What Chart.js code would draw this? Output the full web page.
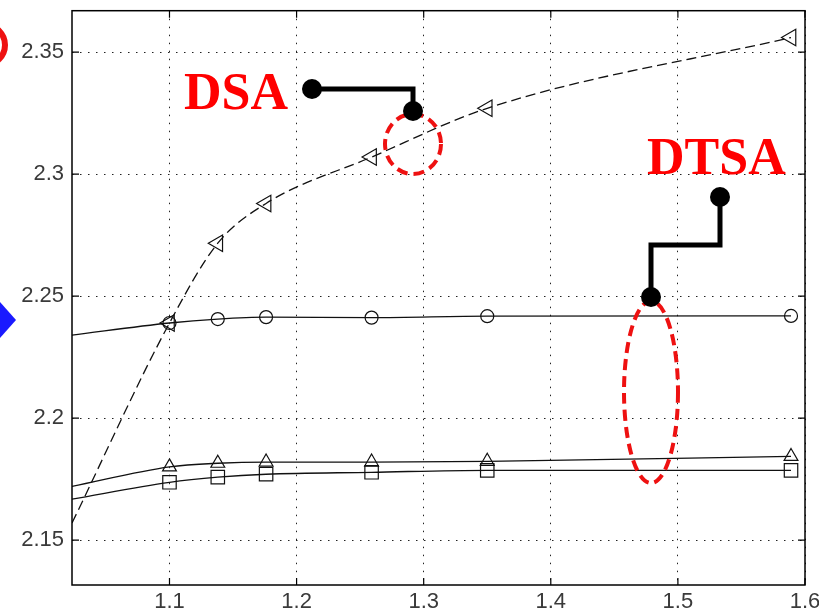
<!DOCTYPE html>
<html>
<head>
<meta charset="utf-8">
<script src="https://cdn.jsdelivr.net/npm/chart.js@4/dist/chart.umd.min.js"></script>
<style>
  html, body { margin: 0; padding: 0; background: #ffffff; }
  #wrap { width: 819px; height: 614px; position: relative; }
</style>
</head>
<body>
<div id="wrap"><canvas id="c" width="819" height="614"></canvas></div>
<script>
// ---- data ----
const xValues = [1.0233, 1.1, 1.138, 1.176, 1.259, 1.35, 1.589];
const seriesDashedTriLeft = [2.157, 2.239, 2.2717, 2.288, 2.307, 2.327, 2.356];
const seriesCircle = [2.234, 2.239, 2.2406, 2.2414, 2.2412, 2.2418, 2.2419];
const seriesTriUp = [2.172, 2.180, 2.1815, 2.182, 2.182, 2.1823, 2.1843];
const seriesSquare = [2.1668, 2.1737, 2.1758, 2.177, 2.1778, 2.1786, 2.1786];
const xTicks = [1.1, 1.2, 1.3, 1.4, 1.5, 1.6];
const yTicks = [2.15, 2.2, 2.25, 2.3, 2.35];
const xRange = [1.0233, 1.6];
const yRange = [2.1316, 2.367];
const annotationLabels = ["DSA", "DTSA"];

function pts(ys) { return xValues.map((x, i) => ({ x: x, y: ys[i] })); }
// first point is the curve's start at the axis edge: no marker
const markerRadius = (r) => xValues.map((_, i) => (i === 0 ? 0 : r));

const lineColor = '#111111';

const framePlugin = {
  id: 'frame',
  afterDraw(chart) {
    const ctx = chart.ctx;
    const a = chart.chartArea;
    const xs = chart.scales.x, ys = chart.scales.y;
    ctx.save();
    ctx.strokeStyle = '#000';
    ctx.lineWidth = 1.5;
    ctx.setLineDash([]);
    ctx.strokeRect(a.left, a.top, a.right - a.left, a.bottom - a.top);
    ctx.lineWidth = 1.2;
    const tl = 7;
    xTicks.forEach(v => {
      const px = xs.getPixelForValue(v);
      ctx.beginPath();
      ctx.moveTo(px, a.bottom); ctx.lineTo(px, a.bottom - tl);
      ctx.moveTo(px, a.top); ctx.lineTo(px, a.top + tl);
      ctx.stroke();
    });
    yTicks.forEach(v => {
      const py = ys.getPixelForValue(v);
      ctx.beginPath();
      ctx.moveTo(a.left, py); ctx.lineTo(a.left + tl, py);
      ctx.moveTo(a.right, py); ctx.lineTo(a.right - tl, py);
      ctx.stroke();
    });
    ctx.restore();
  }
};

const annotationPlugin = {
  id: 'annot',
  afterDraw(chart) {
    const ctx = chart.ctx;
    ctx.save();
    // cropped red ring at top-left
    ctx.strokeStyle = '#ee1111';
    ctx.lineWidth = 6;
    ctx.beginPath();
    ctx.arc(-15, 45, 20, -Math.PI / 2, Math.PI / 2);
    ctx.stroke();
    // cropped blue arrow at left
    ctx.fillStyle = '#1a1aff';
    ctx.beginPath();
    ctx.moveTo(0, 302); ctx.lineTo(16, 320); ctx.lineTo(0, 338);
    ctx.closePath(); ctx.fill();

    // red dashed ellipses
    ctx.strokeStyle = '#ee1111';
    ctx.lineWidth = 4;
    ctx.setLineDash([11, 6]);
    ctx.beginPath();
    ctx.ellipse(413, 144, 28, 30, 0, 0, Math.PI * 2);
    ctx.stroke();
    ctx.beginPath();
    ctx.ellipse(651, 392, 27, 91, 0, 0, Math.PI * 2);
    ctx.stroke();
    ctx.setLineDash([]);

    // black connectors
    ctx.strokeStyle = '#000';
    ctx.fillStyle = '#000';
    ctx.lineWidth = 5;
    ctx.lineJoin = 'miter';
    ctx.beginPath();
    ctx.moveTo(312, 89); ctx.lineTo(413, 89); ctx.lineTo(413, 111);
    ctx.stroke();
    ctx.beginPath();
    ctx.moveTo(720, 197); ctx.lineTo(720, 245); ctx.lineTo(651, 245); ctx.lineTo(651, 297);
    ctx.stroke();
    [[312, 89], [413, 111], [720, 197], [651, 297]].forEach(p => {
      ctx.beginPath(); ctx.arc(p[0], p[1], 10, 0, Math.PI * 2); ctx.fill();
    });

    // labels
    ctx.fillStyle = '#ff0000';
    ctx.font = 'bold 52px "Liberation Serif", "Times New Roman", serif';
    ctx.textBaseline = 'alphabetic';
    ctx.textAlign = 'left';
    ctx.fillText(annotationLabels[0], 184, 109);
    ctx.fillText(annotationLabels[1], 647, 174);
    ctx.restore();
  }
};

const tickFont = { family: '"Liberation Sans", Arial, sans-serif', size: 22 };
const zeroPad = (s) => { s.paddingTop = 0; s.paddingBottom = 0; s.paddingLeft = 0; s.paddingRight = 0; };

new Chart(document.getElementById('c'), {
  type: 'line',
  data: {
    datasets: [
      {
        data: pts(seriesDashedTriLeft),
        borderColor: lineColor, borderWidth: 1.3, borderDash: [10, 5],
        pointStyle: 'triangle', pointRotation: -90,
        pointRadius: markerRadius(9.5), pointBorderColor: lineColor,
        pointBackgroundColor: 'rgba(0,0,0,0)', pointBorderWidth: 1.2,
        cubicInterpolationMode: 'monotone', fill: false
      },
      {
        data: pts(seriesCircle),
        borderColor: lineColor, borderWidth: 1.3,
        pointStyle: 'circle',
        pointRadius: markerRadius(6.5), pointBorderColor: lineColor,
        pointBackgroundColor: 'rgba(0,0,0,0)', pointBorderWidth: 1.2,
        cubicInterpolationMode: 'monotone', fill: false
      },
      {
        data: pts(seriesTriUp),
        borderColor: lineColor, borderWidth: 1.3,
        pointStyle: 'triangle',
        pointRadius: markerRadius(8), pointBorderColor: lineColor,
        pointBackgroundColor: 'rgba(0,0,0,0)', pointBorderWidth: 1.2,
        cubicInterpolationMode: 'monotone', fill: false
      },
      {
        data: pts(seriesSquare),
        borderColor: lineColor, borderWidth: 1.3,
        pointStyle: 'rect',
        pointRadius: markerRadius(9.5), pointBorderColor: lineColor,
        pointBackgroundColor: 'rgba(0,0,0,0)', pointBorderWidth: 1.2,
        cubicInterpolationMode: 'monotone', fill: false
      }
    ]
  },
  options: {
    responsive: false,
    animation: false,
    events: [],
    layout: { padding: { left: 0, top: 9, right: 14, bottom: 0 } },
    plugins: { legend: { display: false }, tooltip: { enabled: false } },
    scales: {
      x: {
        type: 'linear', min: xRange[0], max: xRange[1],
        afterBuildTicks: (s) => { s.ticks = xTicks.map(v => ({ value: v })); },
        afterFit: (s) => { s.height = 29; zeroPad(s); },
        grid: { color: '#222', lineWidth: 1, drawTicks: false },
        border: { display: false, dash: [1.5, 6.5] },
        ticks: { padding: 4, color: '#3a3a3a', font: tickFont, maxRotation: 0, autoSkip: false,
                 callback: (v) => String(v) }
      },
      y: {
        type: 'linear', min: yRange[0], max: yRange[1],
        afterBuildTicks: (s) => { s.ticks = yTicks.map(v => ({ value: v })); },
        afterFit: (s) => { s.width = 72; zeroPad(s); },
        grid: { color: '#222', lineWidth: 1, drawTicks: false },
        border: { display: false, dash: [1.5, 6.5] },
        ticks: { padding: 8, color: '#3a3a3a', font: tickFont, autoSkip: false,
                 callback: (v) => String(v) }
      }
    }
  },
  plugins: [framePlugin, annotationPlugin]
});
</script>
</body>
</html>
